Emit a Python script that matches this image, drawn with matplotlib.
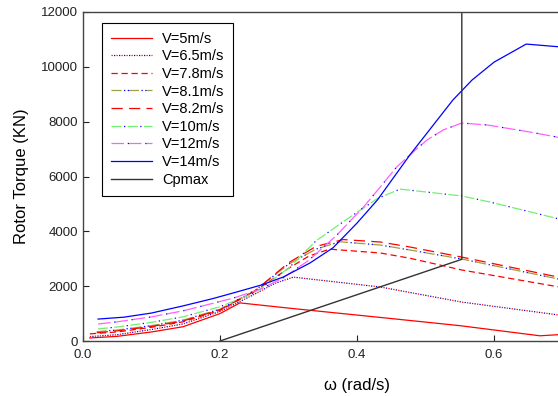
import numpy as np
import matplotlib
matplotlib.use("Agg")
import matplotlib.pyplot as plt
from matplotlib.legend_handler import HandlerTuple

plt.rcParams['font.family'] = ['Liberation Sans', 'DejaVu Sans']

# rotor speed (rad/s) and torque (kN), one pair of lists per wind speed
w_5 = [0.01, 0.05, 0.10, 0.146, 0.20, 0.229, 0.30, 0.434, 0.55, 0.667, 0.70]
t_5 = [110, 170, 330, 520, 1000, 1390, 1200, 860, 560, 190, 240]

w_65 = [0.01, 0.05, 0.10, 0.146, 0.20, 0.25, 0.28, 0.307, 0.434, 0.553, 0.70]
t_65 = [160, 230, 420, 620, 1080, 1700, 2100, 2330, 1970, 1420, 930]

w_78 = [0.01, 0.05, 0.10, 0.146, 0.20, 0.25, 0.30, 0.33, 0.36, 0.434, 0.477, 0.553, 0.70]
t_78 = [260, 330, 500, 700, 1120, 1800, 2650, 3100, 3350, 3210, 3020, 2590, 1950]

w_81 = [0.02, 0.05, 0.10, 0.146, 0.20, 0.25, 0.30, 0.34, 0.375, 0.434, 0.477, 0.553, 0.70]
t_81 = [340, 400, 560, 760, 1160, 1820, 2800, 3350, 3620, 3500, 3320, 2990, 2230]

w_82 = [0.02, 0.05, 0.10, 0.146, 0.20, 0.25, 0.30, 0.34, 0.38, 0.434, 0.477, 0.553, 0.70]
t_82 = [300, 370, 530, 730, 1140, 1810, 2850, 3450, 3700, 3610, 3430, 3060, 2300]

w_10 = [0.022, 0.05, 0.10, 0.146, 0.20, 0.25, 0.30, 0.34, 0.38, 0.43, 0.463, 0.553, 0.594, 0.70]
t_10 = [440, 510, 680, 880, 1250, 1750, 2650, 3650, 4350, 5200, 5540, 5290, 5070, 4420]

w_12 = [0.022, 0.05, 0.10, 0.146, 0.219, 0.26, 0.292, 0.33, 0.37, 0.41, 0.434, 0.458, 0.482,
        0.502, 0.526, 0.553, 0.59, 0.653, 0.70]
t_12 = [620, 700, 880, 1100, 1560, 1900, 2300, 2950, 3850, 4900, 5620, 6350, 6890,
        7330, 7700, 7950, 7880, 7620, 7400]

w_14 = [0.022, 0.06, 0.10, 0.146, 0.19, 0.219, 0.26, 0.292, 0.331, 0.365, 0.40, 0.43, 0.477,
        0.54, 0.568, 0.60, 0.647, 0.70]
t_14 = [800, 870, 1020, 1280, 1550, 1750, 2040, 2330, 2840, 3400, 4300, 5150, 6780,
        8790, 9520, 10170, 10830, 10720]

w_cp = [0.20, 0.553, 0.553]
t_cp = [0, 2980, 12000]

labels = ['V=5m/s', 'V=6.5m/s', 'V=7.8m/s', 'V=8.1m/s', 'V=8.2m/s',
          'V=10m/s', 'V=12m/s', 'V=14m/s', 'Cpmax']

fig = plt.figure(figsize=(5.58, 3.96), dpi=100)
ax = fig.add_axes([83 / 558, 55 / 396, 548 / 558, 329 / 396])

lw = 0.9
h5, = ax.plot(w_5, t_5, color='#ff0000', lw=lw)

# dotted red/blue alternating
a, = ax.plot(w_65, t_65, color='#ff0000', lw=lw, ls=(0, (1, 3)))
b, = ax.plot(w_65, t_65, color='#0000cc', lw=lw, ls=(2, (1, 3)))
h65 = (a, b)

h78, = ax.plot(w_78, t_78, color='#ff0000', lw=lw, ls=(0, (5, 3)))

a, = ax.plot(w_81, t_81, color='#a0a040', lw=lw, ls=(0, (8, 6)))
b, = ax.plot(w_81, t_81, color='#0000ff', lw=lw, ls=(4, (1, 2, 1, 10)))
h81 = (a, b)

h82, = ax.plot(w_82, t_82, color='#ff0000', lw=lw, ls=(0, (9, 5)))

a, = ax.plot(w_10, t_10, color='#70f070', lw=lw, ls=(0, (8, 5)))
b, = ax.plot(w_10, t_10, color='#0000ff', lw=lw, ls=(3, (1, 12)))
h10 = (a, b)

a, = ax.plot(w_12, t_12, color='#ff60ff', lw=lw, ls=(0, (10, 4)))
b, = ax.plot(w_12, t_12, color='#0000ff', lw=lw, ls=(1, (1, 13)))
h12 = (a, b)

h14, = ax.plot(w_14, t_14, color='#0000ff', lw=lw)
hcp, = ax.plot(w_cp, t_cp, color='#333333', lw=1.0)

ax.set_xlim(0, 0.8)
ax.set_ylim(0, 12000)
ax.set_xticks([0.0, 0.2, 0.4, 0.6])
ax.set_xticklabels(['0.0', '0.2', '0.4', '0.6'])
ax.set_yticks(range(0, 12001, 2000))
ax.tick_params(direction='in', length=4, width=0.8, labelsize=9.5, colors='#222222')
ax.tick_params(axis='x', pad=6)
for s in ax.spines.values():
    s.set_color('#444444')
    s.set_linewidth(1.0)

ax.set_xlabel('ω (rad/s)', fontsize=12, labelpad=12)
ax.set_ylabel('Rotor Torque (KN)', fontsize=12, labelpad=9)

leg = ax.legend([h5, h65, h78, h81, h82, h10, h12, h14, hcp], labels,
                handler_map={tuple: HandlerTuple(ndivide=1)},
                loc='upper left', bbox_to_anchor=(0.035, 0.967), borderaxespad=0,
                fontsize=10.5, frameon=True, fancybox=False, framealpha=1,
                handlelength=2.8, handletextpad=0.7, labelspacing=0.25,
                borderpad=0.6)
leg.get_frame().set_edgecolor('black')
leg.get_frame().set_linewidth(0.8)

fig.savefig('out.png', dpi=100)
